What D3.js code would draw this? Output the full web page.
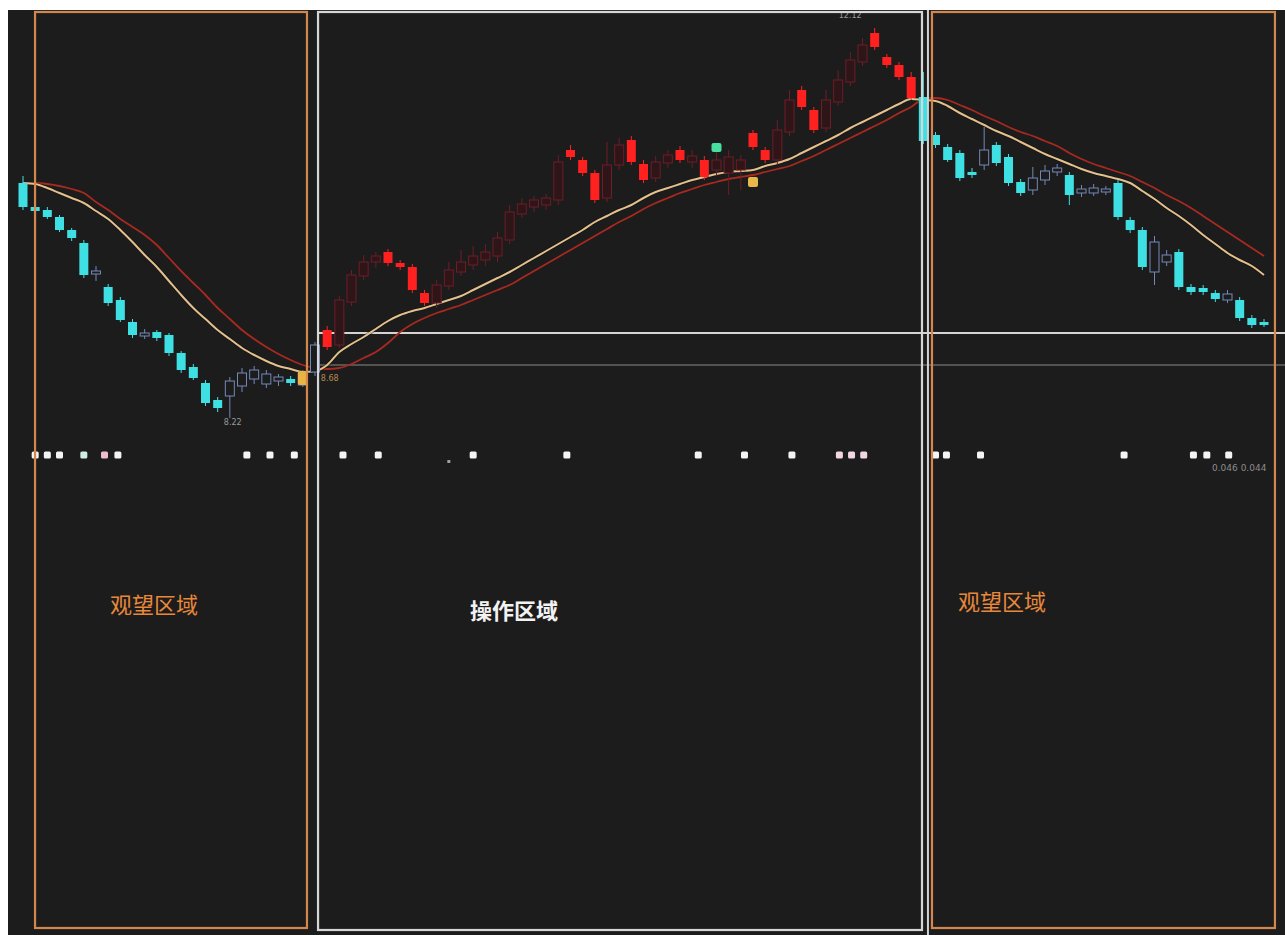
<!DOCTYPE html>
<html>
<head>
<meta charset="utf-8">
<script src="https://cdnjs.cloudflare.com/ajax/libs/d3/7.8.5/d3.min.js"></script>
<style>
html, body { margin: 0; padding: 0; background: #ffffff; overflow: hidden; }
</style>
</head>
<body>
<div id="app"></div>
<script>
// candle prices, one entry per bar
var opens = [10.57,10.33,10.30,10.23,10.10,9.97,9.66,9.53,9.40,9.18,9.04,9.08,9.05,8.87,8.73,8.57,8.40,8.44,8.54,8.61,
    8.56,8.59,8.61,8.55,8.68,9.10,8.95,9.38,9.64,9.78,9.88,9.77,9.73,9.47,9.37,9.54,9.68,9.75,9.80,9.84,
    10.00,10.26,10.33,10.35,10.40,10.90,10.80,10.67,10.42,10.75,11.00,10.76,10.62,10.77,10.90,10.78,10.80,10.70,10.67,10.70,
    11.07,10.90,10.80,11.08,11.50,11.30,11.12,11.38,11.58,11.78,12.07,11.83,11.75,11.63,11.43,11.05,10.93,10.87,10.68,10.75,
    10.95,10.83,10.58,10.50,10.60,10.68,10.65,10.47,10.47,10.48,10.57,10.20,10.10,9.68,9.78,9.88,9.53,9.52,9.47,9.40,
    9.40,9.22,9.18];
var closes = [10.33,10.29,10.23,10.10,10.02,9.65,9.69,9.37,9.20,9.05,9.07,9.02,8.87,8.70,8.62,8.37,8.32,8.59,8.67,8.70,
    8.66,8.63,8.57,8.68,8.95,8.93,9.40,9.65,9.78,9.84,9.77,9.73,9.50,9.37,9.55,9.70,9.78,9.84,9.88,10.02,
    10.28,10.36,10.40,10.42,10.78,10.83,10.67,10.40,10.75,10.95,10.78,10.60,10.78,10.85,10.80,10.84,10.63,10.80,10.83,10.80,
    10.93,10.80,11.10,11.40,11.33,11.10,11.40,11.60,11.80,11.95,11.93,11.75,11.63,11.42,10.99,10.95,10.80,10.62,10.65,10.90,
    10.77,10.57,10.47,10.62,10.69,10.72,10.45,10.51,10.52,10.51,10.23,10.10,9.73,9.98,9.85,9.53,9.48,9.48,9.41,9.46,
    9.22,9.15,9.15];
var highs = [10.64,10.36,10.33,10.25,10.12,10.00,9.74,9.56,9.43,9.21,9.11,9.10,9.07,8.89,8.76,8.60,8.43,8.63,8.72,8.74,
    8.70,8.66,8.64,8.70,8.98,9.14,9.44,9.70,9.85,9.88,9.91,9.80,9.76,9.50,9.60,9.78,9.90,9.94,9.96,10.08,
    10.35,10.42,10.44,10.46,10.85,10.95,10.83,10.70,10.98,11.02,11.04,10.80,10.84,10.90,10.94,10.90,10.84,10.90,10.90,10.85,
    11.10,10.93,11.20,11.50,11.54,11.33,11.50,11.70,11.88,12.02,12.12,11.86,11.78,11.68,11.68,11.08,10.96,10.90,10.72,11.13,
    10.98,10.86,10.61,10.73,10.75,10.76,10.68,10.55,10.56,10.54,10.60,10.23,10.13,10.04,9.90,9.91,9.56,9.55,9.50,9.50,
    9.43,9.25,9.21];
var lows = [10.30,10.26,10.21,10.08,9.99,9.62,9.59,9.34,9.18,9.02,9.01,8.99,8.84,8.67,8.60,8.34,8.28,8.22,8.48,8.56,
    8.52,8.54,8.54,8.53,8.64,8.90,8.92,9.34,9.60,9.72,9.74,9.70,9.47,9.34,9.32,9.50,9.64,9.70,9.74,9.78,
    9.96,10.22,10.28,10.30,10.35,10.80,10.64,10.37,10.38,10.70,10.75,10.57,10.58,10.72,10.77,10.72,10.60,10.64,10.45,10.50,
    10.90,10.77,10.75,11.04,11.30,11.07,11.08,11.34,11.54,11.74,11.90,11.72,11.60,11.40,10.96,10.92,10.78,10.59,10.62,10.70,
    10.74,10.54,10.44,10.45,10.55,10.64,10.35,10.43,10.44,10.45,10.20,10.07,9.70,9.55,9.74,9.50,9.45,9.45,9.38,9.37,
    9.19,9.12,9.13];

// moving averages
var maFast = [10.57,10.56,10.52,10.47,10.42,10.37,10.29,10.21,10.10,9.98,9.85,9.73,9.59,9.45,9.32,9.21,9.10,9.01,8.92,8.85,
    8.79,8.74,8.71,8.68,8.69,8.75,8.88,8.96,9.03,9.11,9.19,9.25,9.29,9.32,9.36,9.40,9.44,9.50,9.56,9.62,
    9.68,9.75,9.82,9.89,9.96,10.03,10.10,10.18,10.24,10.30,10.35,10.42,10.48,10.52,10.56,10.60,10.63,10.66,10.68,10.69,
    10.70,10.74,10.77,10.81,10.87,10.93,10.99,11.05,11.12,11.18,11.24,11.30,11.36,11.41,11.40,11.39,11.34,11.27,11.21,11.15,
    11.09,11.04,10.98,10.92,10.86,10.81,10.76,10.71,10.67,10.64,10.61,10.57,10.49,10.41,10.32,10.24,10.15,10.05,9.96,9.87,
    9.80,9.74,9.65];
var maSlow = [10.57,10.57,10.56,10.54,10.51,10.47,10.38,10.30,10.21,10.13,10.05,9.95,9.82,9.69,9.57,9.45,9.32,9.21,9.10,9.01,
    8.93,8.86,8.80,8.75,8.72,8.71,8.72,8.76,8.82,8.88,8.97,9.08,9.16,9.22,9.27,9.31,9.35,9.40,9.45,9.50,
    9.55,9.62,9.69,9.76,9.83,9.90,9.97,10.04,10.11,10.18,10.24,10.31,10.37,10.42,10.47,10.51,10.55,10.58,10.61,10.63,
    10.65,10.68,10.71,10.74,10.79,10.84,10.90,10.96,11.02,11.08,11.14,11.20,11.27,11.33,11.41,11.42,11.40,11.35,11.30,11.24,
    11.19,11.13,11.08,11.04,10.99,10.94,10.87,10.81,10.76,10.72,10.68,10.64,10.58,10.52,10.45,10.39,10.32,10.24,10.16,10.08,
    10.00,9.92,9.84];

// coloured signal blocks on the price panel
var markIdx = [23, 57, 60];
var markHigh = [8.69, 10.97, 10.63];
var markLow = [8.55, 10.88, 10.53];

// signal dots of the lower indicator (bar positions)
var signalDots = [1, 2, 3, 5, 6.7, 7.8, 18.4, 20.3, 22.3, 26.3, 29.2, 37, 44.7, 55.5, 59.3, 63.2,
    67.1, 68.1, 69.1, 75, 75.9, 78.7, 90.5, 96.2, 97.3, 99.1];
var faintDots = [35];

// zones
var zoneNames = ["观望区域", "操作区域", "观望区域"];
var zoneStart = [0.99, 24.25, 74.71];
var zoneEnd = [23.34, 73.89, 102.9];

// crosshair
var crossIdx = 74.38;
var crossPrices = [9.07, 8.75];
var indicatorText = "0.046 0.044";

// LAYOUT AND STYLE
var W = 1285, H = 935;
var panelX = 8, panelY = 10;
var boxTop = 12, boxBottom = 928;
var dotsY = 455;
var barW = 9;
var zoneColors = ["#d4874c", "#d6d6d6", "#d4874c"];
var labelColors = ["#e8883a", "#f2f2f2", "#e8883a"];
var labelDx = [75, 152, 26];
var labelY = [613, 619, 610];
var markColors = ["#e9b443", "#47e0a0", "#e8b64a"];
var dotTint = {3: "#cfeee2", 4: "#f0bccb", 16: "#f2d6e2", 17: "#f2d6e2", 18: "#f2d6e2"};

var x = d3.scaleLinear().domain([0, 102]).range([23, 1264]);
var y = d3.scaleLinear().domain([8.0, 12.4]).range([440, 0]);

var runApp = function () {
    var svg = d3.select("#app")
        .append("svg")
        .attr("width", W)
        .attr("height", H)
        .style("display", "block");

    //BACKGROUND
    svg.append("rect")
        .attr("x", panelX)
        .attr("y", panelY)
        .attr("width", W - panelX)
        .attr("height", H - panelY)
        .style("fill", "#1c1c1c");

    //CROSSHAIR + GUIDE LINES
    svg.selectAll(".hline")
        .data(crossPrices)
        .enter()
        .append("line")
        .attr("class", "hline")
        .attr("x1", x(zoneStart[1]))
        .attr("x2", W)
        .attr("y1", function (p) { return y(p); })
        .attr("y2", function (p) { return y(p); })
        .style("stroke", function (p, i) { return i === 0 ? "#d4d4d4" : "#8a8a8a"; })
        .style("stroke-width", function (p, i) { return i === 0 ? 2 : 1.2; });

    //MOVING AVERAGES
    var line = d3.line()
        .x(function (v, i) { return x(i); })
        .y(function (v) { return y(v); })
        .curve(d3.curveMonotoneX);

    svg.append("path")
        .datum(maSlow)
        .attr("d", line)
        .style("fill", "none")
        .style("stroke", "#a8291f")
        .style("stroke-width", 1.8);
    svg.append("path")
        .datum(maFast)
        .attr("d", line)
        .style("fill", "none")
        .style("stroke", "#101010")
        .style("stroke-width", 3.6)
        .style("opacity", 0.5);
    svg.append("path")
        .datum(maFast)
        .attr("d", line)
        .style("fill", "none")
        .style("stroke", "#e3c08c")
        .style("stroke-width", 2);

    //CANDLES
    var bars = d3.range(opens.length).map(function (i) {
        var bull = maFast[i] > maSlow[i];
        var up = closes[i] >= opens[i];
        var color;
        if (bull) {
            color = up ? "#6e1c28" : "#ff2020";
        } else {
            color = up ? "#7488b8" : "#3fe0e4";
        }
        return {i: i, o: opens[i], c: closes[i], h: highs[i], l: lows[i], up: up, bull: bull, color: color};
    });

    var g = svg.append("g");
    g.selectAll(".wick")
        .data(bars)
        .enter()
        .append("line")
        .attr("class", "wick")
        .attr("x1", function (d) { return x(d.i); })
        .attr("x2", function (d) { return x(d.i); })
        .attr("y1", function (d) { return y(d.h); })
        .attr("y2", function (d) { return y(d.l); })
        .style("stroke", function (d) { return d.color; })
        .style("stroke-width", 1);

    g.selectAll(".body")
        .data(bars)
        .enter()
        .append("rect")
        .attr("class", "body")
        .attr("x", function (d) { return x(d.i) - barW / 2; })
        .attr("y", function (d) { return y(Math.max(d.o, d.c)); })
        .attr("width", barW)
        .attr("height", function (d) { return Math.max(2, Math.abs(y(d.o) - y(d.c))); })
        .style("fill", function (d) {
            if (!d.up) return d.color;
            return d.bull ? "#2e1518" : "#1c1c1c";
        })
        .style("stroke", function (d) { return d.up ? d.color : "none"; })
        .style("stroke-width", 1);

    //SIGNAL BLOCKS
    svg.selectAll(".mark")
        .data(markIdx)
        .enter()
        .append("rect")
        .attr("class", "mark")
        .attr("x", function (d) { return x(d) - 5; })
        .attr("y", function (d, k) { return y(markHigh[k]); })
        .attr("width", 10)
        .attr("height", function (d, k) { return y(markLow[k]) - y(markHigh[k]); })
        .attr("rx", 2)
        .style("fill", function (d, k) { return markColors[k]; });

    //HIGH / LOW LABELS
    var hiIdx = d3.maxIndex(highs);
    var loIdx = d3.minIndex(lows);
    svg.append("text")
        .attr("x", x(hiIdx) - 36)
        .attr("y", y(highs[hiIdx]) - 10)
        .text(highs[hiIdx].toFixed(2))
        .style("font-family", "DejaVu Sans")
        .style("font-size", "8px")
        .style("fill", "#9a9a9a");
    svg.append("text")
        .attr("x", x(loIdx) - 6)
        .attr("y", y(lows[loIdx]) + 7)
        .text(lows[loIdx].toFixed(2))
        .style("font-family", "DejaVu Sans")
        .style("font-size", "8px")
        .style("fill", "#9a9a9a");
    svg.append("text")
        .attr("x", x(markIdx[0]) + 18)
        .attr("y", y(markLow[0]) - 4)
        .text(maFast[markIdx[0]].toFixed(2))
        .style("font-family", "DejaVu Sans")
        .style("font-size", "8px")
        .style("fill", "#b98a4e");

    //INDICATOR DOTS
    svg.selectAll(".dot")
        .data(signalDots)
        .enter()
        .append("rect")
        .attr("class", "dot")
        .attr("x", function (d) { return x(d) - 3.5; })
        .attr("y", dotsY - 3.5)
        .attr("width", 7)
        .attr("height", 7)
        .attr("rx", 1.5)
        .style("fill", function (d, k) { return dotTint[k] || "#f4f4f4"; });
    svg.selectAll(".fdot")
        .data(faintDots)
        .enter()
        .append("rect")
        .attr("class", "fdot")
        .attr("x", function (d) { return x(d) - 1.5; })
        .attr("y", dotsY + 5)
        .attr("width", 3)
        .attr("height", 3)
        .style("fill", "#a0a0a0");
    svg.append("text")
        .attr("x", 1212)
        .attr("y", dotsY + 16)
        .text(indicatorText)
        .style("font-family", "DejaVu Sans")
        .style("font-size", "9px")
        .style("fill", "#8c8c8c");

    //ZONE BOXES
    svg.selectAll(".zone")
        .data(zoneNames)
        .enter()
        .append("rect")
        .attr("class", "zone")
        .attr("x", function (d, k) { return x(zoneStart[k]); })
        .attr("y", boxTop)
        .attr("width", function (d, k) { return x(zoneEnd[k]) - x(zoneStart[k]); })
        .attr("height", function (d, k) { return (k === 1 ? boxBottom + 2 : boxBottom) - boxTop; })
        .style("fill", "none")
        .style("stroke", function (d, k) { return zoneColors[k]; })
        .style("stroke-width", 2.2);

    svg.append("line")
        .attr("x1", x(crossIdx))
        .attr("x2", x(crossIdx))
        .attr("y1", panelY)
        .attr("y2", H)
        .style("stroke", "#d2d2d2")
        .style("stroke-width", 2);

    //ZONE LABELS
    svg.selectAll(".zlabel")
        .data(zoneNames)
        .enter()
        .append("text")
        .attr("class", "zlabel")
        .attr("x", function (d, k) { return x(zoneStart[k]) + labelDx[k]; })
        .attr("y", function (d, k) { return labelY[k]; })
        .text(function (d) { return d; })
        .style("font-family", "Noto Sans CJK SC")
        .style("font-size", "22px")
        .style("font-weight", function (d, k) { return k === 1 ? 700 : 400; })
        .style("fill", function (d, k) { return labelColors[k]; });
};

runApp();
</script>
</body>
</html>
